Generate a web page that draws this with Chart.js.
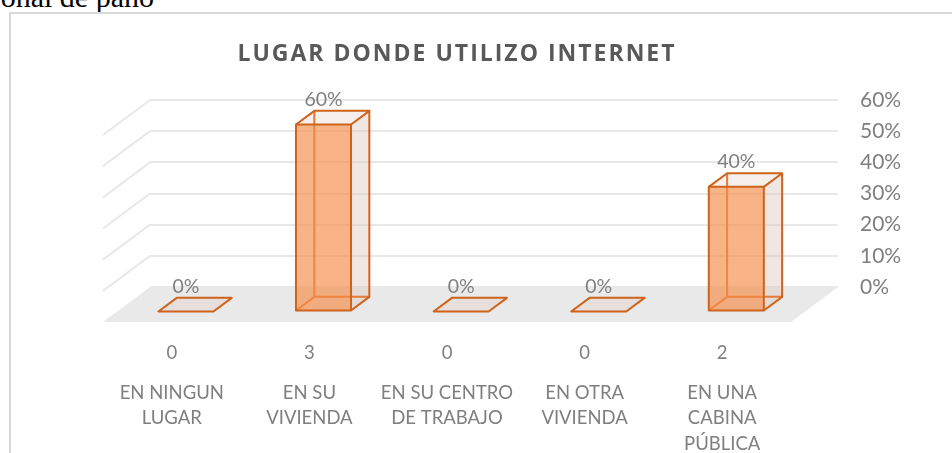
<!DOCTYPE html>
<html>
<head>
<meta charset="utf-8">
<script src="https://cdn.jsdelivr.net/npm/chart.js@4"></script>
<style>
  html, body { margin: 0; padding: 0; background: #fff; overflow: hidden; width: 952px; height: 453px; }
  .texto-doc { position: absolute; left: -46px; top: -18px; width: 200px; text-align: right;
               font: 30px/30px "Liberation Serif", serif; color: #000; white-space: nowrap; }
  .marco { position: absolute; left: 9px; top: 12px; width: 1000px; height: 500px; border: 2px solid #d9d9d9; }
  .contenedor { position: absolute; left: 0; top: 0; width: 952px; height: 470px; }
</style>
</head>
<body>
<div class="texto-doc">onal de paño</div>
<div class="marco"></div>
<div class="contenedor"><canvas id="grafico"></canvas></div>
<script>
// Datos
const titulo = 'LUGAR DONDE UTILIZO INTERNET';
const lugares = [
    ['EN NINGUN', 'LUGAR'],
    ['EN SU', 'VIVIENDA'],
    ['EN SU CENTRO', 'DE TRABAJO'],
    ['EN OTRA', 'VIVIENDA'],
    ['EN UNA', 'CABINA', 'PÚBLICA']
];
const conteos = [0, 3, 0, 0, 2];
const porcentajes = [0, 60, 0, 0, 40];
const ticksY = [0, 10, 20, 30, 40, 50, 60];

const gris = '#7f7f7f';
const naranja = '#cf631c';

// Perspectiva: desplazamiento del fondo del suelo hacia el frente
const PROF = { dx: -47, dy: 35 };
const ATRAS = 0.31;   // cara trasera de las barras
const FRENTE = 0.70;  // cara delantera de las barras

const pt = (px, py, o) => [px + o.dx, py + o.dy];

function poligono(ctx, pts) {
    ctx.beginPath();
    ctx.moveTo(pts[0][0], pts[0][1]);
    for (let k = 1; k < pts.length; k++) ctx.lineTo(pts[k][0], pts[k][1]);
    ctx.closePath();
}

function linea(ctx, pts) {
    ctx.beginPath();
    ctx.moveTo(pts[0][0], pts[0][1]);
    for (let k = 1; k < pts.length; k++) ctx.lineTo(pts[k][0], pts[k][1]);
    ctx.stroke();
}

// Dibuja una barra como caja 3D transparente
function caja(ctx, bar) {
    const { x, y, base, width } = bar.getProps(['x', 'y', 'base', 'width'], true);
    const l = x - width / 2, r = x + width / 2;
    const b = { dx: PROF.dx * ATRAS, dy: PROF.dy * ATRAS };
    const f = { dx: PROF.dx * FRENTE, dy: PROF.dy * FRENTE };

    ctx.save();
    ctx.lineWidth = 2;
    ctx.lineJoin = 'round';
    ctx.strokeStyle = naranja;

    if (base - y < 1) {
        poligono(ctx, [pt(l, base, f), pt(r, base, f), pt(r, base, b), pt(l, base, b)]);
        ctx.fillStyle = '#e6dfdb';
        ctx.fill();
        ctx.stroke();
        ctx.restore();
        return;
    }

    // caras lateral y superior
    ctx.fillStyle = 'rgba(222, 200, 190, 0.45)';
    poligono(ctx, [pt(r, y, f), pt(r, y, b), pt(r, base, b), pt(r, base, f)]);
    ctx.fill();
    ctx.fillStyle = 'rgba(230, 210, 200, 0.35)';
    poligono(ctx, [pt(l, y, f), pt(r, y, f), pt(r, y, b), pt(l, y, b)]);
    ctx.fill();

    // aristas ocultas
    ctx.strokeStyle = '#e57a35';
    linea(ctx, [pt(l, y, b), pt(l, base, b), pt(r, base, b)]);
    linea(ctx, [pt(l, base, f), pt(l, base, b)]);

    // cara frontal
    ctx.fillStyle = 'rgba(244, 140, 70, 0.65)';
    poligono(ctx, [pt(l, y, f), pt(r, y, f), pt(r, base, f), pt(l, base, f)]);
    ctx.fill();

    // aristas visibles
    ctx.strokeStyle = naranja;
    poligono(ctx, [pt(l, y, f), pt(r, y, f), pt(r, base, f), pt(l, base, f)]);
    ctx.stroke();
    linea(ctx, [pt(l, y, f), pt(l, y, b), pt(r, y, b), pt(r, y, f)]);
    linea(ctx, [pt(r, y, b), pt(r, base, b), pt(r, base, f)]);
    ctx.restore();
}

const escena3d = {
    id: 'escena3d',
    beforeDatasetsDraw(chart) {
        const { ctx, chartArea: a, scales: { y } } = chart;
        ctx.save();
        // suelo
        ctx.fillStyle = '#e9e9e9';
        poligono(ctx, [[a.left, a.bottom], [a.right, a.bottom],
            pt(a.right, a.bottom, PROF), pt(a.left, a.bottom, PROF)]);
        ctx.fill();
        // pared lateral
        ctx.strokeStyle = '#e8e8e8';
        ctx.lineWidth = 2;
        y.ticks.forEach(t => {
            if (t.value === 0) return;
            const py = y.getPixelForValue(t.value);
            linea(ctx, [[a.left, py], pt(a.left, py, PROF)]);
        });
        ctx.restore();
    },
    afterDatasetsDraw(chart) {
        const { ctx } = chart;
        const meta = chart.getDatasetMeta(0);
        meta.data.forEach(bar => caja(ctx, bar));

        // etiquetas de datos
        ctx.save();
        ctx.font = '19.5px Lato';
        ctx.fillStyle = gris;
        ctx.textAlign = 'center';
        ctx.textBaseline = 'middle';
        meta.data.forEach((bar, i) => {
            const tx = bar.x + PROF.dx * FRENTE;
            const ty = bar.y + PROF.dy * ATRAS - 11;
            ctx.fillText(porcentajes[i] + '%', tx, ty);
        });
        ctx.restore();
    },
    afterDraw(chart) {
        const { ctx } = chart;
        ctx.save();
        ctx.font = 'bold 23px "Open Sans"';
        ctx.letterSpacing = '2px';
        ctx.fillStyle = '#595959';
        ctx.textAlign = 'center';
        ctx.textBaseline = 'middle';
        ctx.fillText(titulo, 457, 54);
        ctx.restore();
    }
};

new Chart(document.getElementById('grafico'), {
    type: 'bar',
    data: {
        labels: lugares,
        datasets: [{
            data: porcentajes,
            backgroundColor: 'rgba(0,0,0,0)',
            borderWidth: 0,
            barPercentage: 0.4,
            categoryPercentage: 1
        }]
    },
    options: {
        responsive: true,
        maintainAspectRatio: false,
        animation: false,
        layout: { padding: { left: 150, top: 100, right: 51, bottom: 13 } },
        plugins: {
            legend: { display: false },
            tooltip: { enabled: false },
            title: { display: false }
        },
        scales: {
            x: {
                position: 'bottom',
                weight: 0,
                offset: true,
                grid: { display: false },
                border: { display: false },
                afterFit: s => { s.height = 85; },
                ticks: {
                    padding: 47,
                    labelOffset: -47,
                    maxRotation: 0,
                    minRotation: 0,
                    autoSkip: false,
                    color: gris,
                    font: { family: 'Lato', size: 18.5 },
                    callback: (v, i) => String(conteos[i])
                }
            },
            x2: {
                type: 'category',
                labels: lugares,
                position: 'bottom',
                weight: 1,
                offset: true,
                grid: { display: false },
                border: { display: false },
                afterFit: s => { s.height = 85; },
                ticks: {
                    padding: 0,
                    labelOffset: -47,
                    maxRotation: 0,
                    minRotation: 0,
                    autoSkip: false,
                    color: gris,
                    font: { family: 'Lato', size: 18.5, lineHeight: '25.5px' }
                }
            },
            y: {
                position: 'right',
                min: 0,
                max: 60,
                afterBuildTicks: s => { s.ticks = ticksY.map(v => ({ value: v })); },
                afterFit: s => { s.width = 63; },
                grid: { color: '#e8e8e8', lineWidth: 2, drawTicks: false },
                border: { display: false },
                ticks: {
                    padding: 22,
                    autoSkip: false,
                    color: gris,
                    font: { family: 'Lato', size: 21 },
                    callback: v => v + '%'
                }
            }
        }
    },
    plugins: [escena3d]
});
</script>
</body>
</html>
